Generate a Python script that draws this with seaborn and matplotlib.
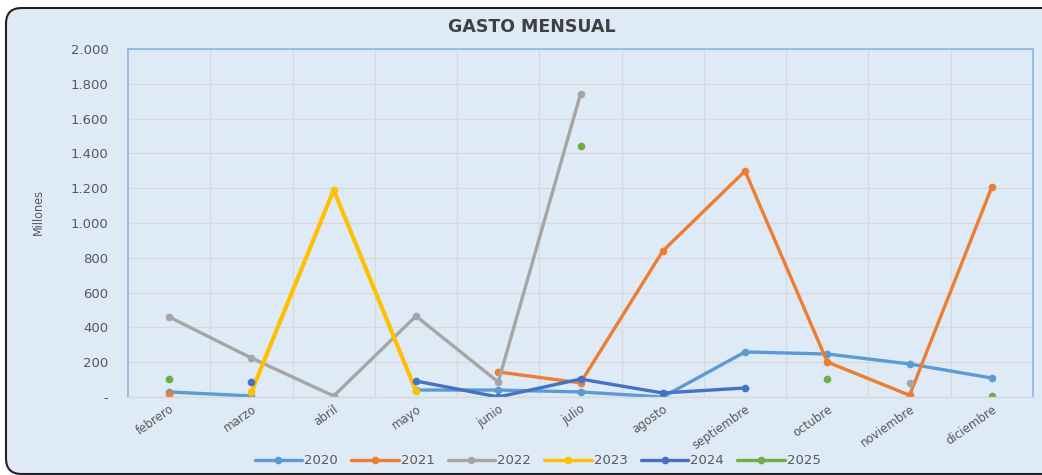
import numpy as np
import pandas as pd
import matplotlib
matplotlib.use("Agg")
import matplotlib.pyplot as plt
import seaborn as sns
from matplotlib.ticker import FuncFormatter, FixedLocator
from matplotlib.patches import FancyBboxPatch
from matplotlib.lines import Line2D

months = ["febrero", "marzo", "abril", "mayo", "junio", "julio", "agosto",
          "septiembre", "octubre", "noviembre", "diciembre"]
nan = np.nan
y2020 = [29, 6, nan, 40, 40, 29, 0, 259, 247, 190, 109]
y2021 = [17, nan, 2, nan, 144, 81, 839, 1299, 201, 10, 1207]
y2022 = [460, 224, 6, 465, 86, 1741, nan, nan, nan, 81, nan]
y2023 = [nan, 29, 1190, 35, nan, nan, nan, nan, nan, nan, nan]
y2024 = [nan, 86, nan, 92, 0, 103, 23, 52, nan, nan, nan]
y2025 = [103, nan, nan, nan, nan, 1442, nan, nan, 103, nan, 5]
years = ["2020", "2021", "2022", "2023", "2024", "2025"]
series = [y2020, y2021, y2022, y2023, y2024, y2025]
colors = ["#5B9BD5", "#ED7D31", "#A5A5A5", "#FFC000", "#4472C4", "#70AD47"]
yticks = [0, 200, 400, 600, 800, 1000, 1200, 1400, 1600, 1800, 2000]

bg = "#DEEAF6"
sns.set_theme(style="white")
plt.rcParams["font.family"] = ["DejaVu Sans"]

fig = plt.figure(figsize=(10.42, 4.75), dpi=100)
fig.patch.set_facecolor("white")

# figure frame (chart area with rounded corners)
frame = FancyBboxPatch((6/1042, 1/475), 1.2, (467 - 1)/475,
                       boxstyle="round,pad=0,rounding_size=0.015",
                       transform=fig.transFigure, facecolor=bg, edgecolor="#222222", lw=1.5,
                       mutation_aspect=1042/475, zorder=-10)
fig.patches.append(frame)

ax = fig.add_axes([128/1042, 1-397/475, (1033-128)/1042, (397-49)/475])
ax.set_facecolor(bg)

xpos = np.arange(len(months))
for yr, vals, c in zip(years, series, colors):
    vals = np.array(vals, dtype=float)
    seg = []
    segs = []
    for i, v in enumerate(vals):
        if np.isnan(v):
            if seg:
                segs.append(seg)
            seg = []
        else:
            seg.append(i)
    if seg:
        segs.append(seg)
    lw = 3.0 if yr == "2023" else 2.4
    for s in segs:
        df = pd.DataFrame({"x": xpos[s], "v": vals[s]})
        sns.lineplot(data=df, x="x", y="v", ax=ax, color=c, lw=lw, marker="o",
                     markersize=5.5, markeredgewidth=0, sort=False, legend=False)

ax.set_xlim(-0.5, len(months) - 0.5)
ax.set_ylim(0, 2000)
ax.set_xticks(xpos)
ax.set_xticklabels(months, rotation=35, ha="right", rotation_mode="anchor",
                   fontsize=8.5, color="#595959")
ax.xaxis.set_minor_locator(FixedLocator(np.arange(0.5, len(months) - 0.5, 1)))
ax.set_yticks(yticks)
ax.yaxis.set_major_formatter(FuncFormatter(
    lambda v, p: "-" if v == 0 else f"{int(v):,}".replace(",", ".")))
ax.tick_params(axis="y", labelsize=9.5, colors="#595959", length=0, pad=14)
ax.tick_params(axis="x", length=0, pad=4)
ax.grid(True, axis="y", which="major", color="#D9D9D9", lw=0.9)
ax.grid(True, axis="x", which="minor", color="#D9D9D9", lw=0.9)
ax.grid(False, axis="x", which="major")
for sp in ["left", "top", "right"]:
    ax.spines[sp].set_visible(True)
    ax.spines[sp].set_color("#8DB4E2")
    ax.spines[sp].set_linewidth(1.2)
ax.spines["bottom"].set_color("#D9D9D9")
ax.spines["bottom"].set_linewidth(0.9)
ax.set_xlabel("")
ax.set_ylabel("")

fig.text(38/1042, 1-212/475, "Millones", rotation=90, fontsize=9, color="#595959",
         ha="center", va="center", fontstretch="condensed")
fig.text(0.51, 1-27/475, "GASTO MENSUAL", fontsize=12.5, fontweight="bold",
         color="#404040", ha="center", va="center")

handles = [Line2D([0], [0], color=c, lw=2.4, marker="o", markersize=5.5, markeredgewidth=0)
           for c in colors]
leg = fig.legend(handles, years, loc="center", bbox_to_anchor=(0.516, 1-461/475), ncol=6,
                 frameon=False, fontsize=9.5, handlelength=3.6, columnspacing=1.0,
                 handletextpad=0.15)
for t in leg.get_texts():
    t.set_color("#595959")

fig.savefig("out.png", dpi=100, facecolor="white")
